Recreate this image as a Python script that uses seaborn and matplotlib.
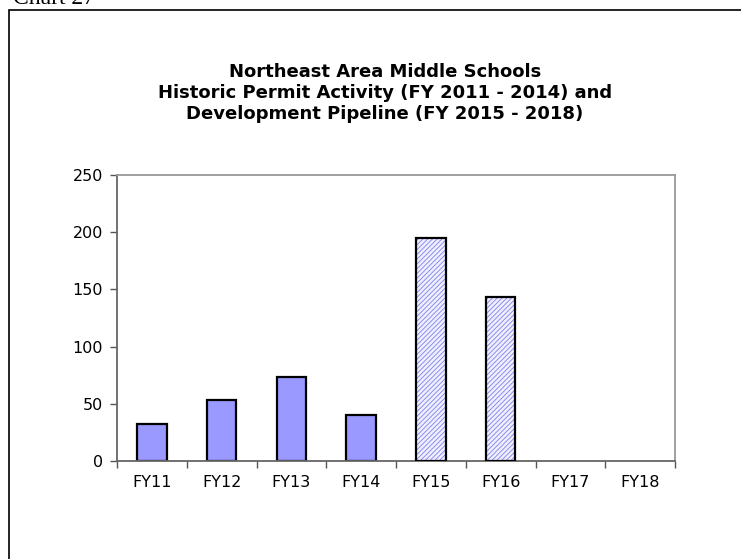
import matplotlib
matplotlib.use('Agg')
import matplotlib.pyplot as plt
from matplotlib.patches import Rectangle
import numpy as np
import pandas as pd
import seaborn as sns

# data
years = ['FY11', 'FY12', 'FY13', 'FY14', 'FY15', 'FY16', 'FY17', 'FY18']
permits = [32, 53, 73, 40, 195, 143, 0, 0]
pipeline = [False, False, False, False, True, True, True, True]
yticks = [0, 50, 100, 150, 200, 250]

sns.set_style('ticks')
plt.rcParams['font.family'] = ['DejaVu Sans']
plt.rcParams['hatch.linewidth'] = 0.6
plt.rcParams['text.color'] = 'black'

df = pd.DataFrame({'year': years, 'permits': permits})

fig = plt.figure(figsize=(7.41, 5.59), dpi=100)
ax = fig.add_axes([117/741, 98/559, 558/741, 286/559])

sns.barplot(data=df, x='year', y='permits', order=years, color='#9999FF',
            saturation=1, width=0.42, edgecolor='black', linewidth=1.6, ax=ax)

for p, is_pipe, v in zip(ax.patches, pipeline, permits):
    if v == 0:
        p.set_visible(False)
        continue
    if is_pipe:
        p.set_facecolor('#EFEFFF')
        p.set_edgecolor('#8080EE')
        p.set_linewidth(0)
        p.set_hatch('///////')
        ax.add_patch(Rectangle((p.get_x(), p.get_y()), p.get_width(), p.get_height(),
                               fill=False, edgecolor='black', linewidth=1.6, zorder=3))

ax.set_ylim(0, 250)
ax.set_xlim(-0.5, len(years) - 0.5)
ax.set_yticks(yticks)
ax.set_xlabel('')
ax.set_ylabel('')
ax.tick_params(axis='y', length=5, width=1, color='#555555', labelcolor='black',
               labelsize=11.5, pad=5)
ax.tick_params(axis='x', which='major', length=0, labelcolor='black', labelsize=11.5, pad=10)
ax.set_xticks(np.arange(-0.5, len(years)), minor=True)
ax.tick_params(axis='x', which='minor', length=5, width=1, color='#555555')

for s in ['left', 'bottom']:
    ax.spines[s].set_color('#666666')
    ax.spines[s].set_linewidth(1.3)
for s in ['top', 'right']:
    ax.spines[s].set_visible(True)
    ax.spines[s].set_color('#999999')
    ax.spines[s].set_linewidth(1.3)

fig.text(385/741, 1 - 93/559,
         'Northeast Area Middle Schools\nHistoric Permit Activity (FY 2011 - 2014) and\nDevelopment Pipeline (FY 2015 - 2018)',
         ha='center', va='center', fontsize=13, fontweight='bold', linespacing=1.2,
         color='black')

# outer frame (runs off the right and bottom edges) and caption
fig.patches.append(Rectangle((9/741, -0.02), 1.0, 1.02 - 10/559, transform=fig.transFigure,
                             fill=False, edgecolor='black', linewidth=1.2))
fig.text(13/741, 1 - 4/559, 'Chart 27', family='Liberation Serif', fontsize=17,
         ha='left', va='baseline', color='black')

fig.savefig('out.png', dpi=100)
